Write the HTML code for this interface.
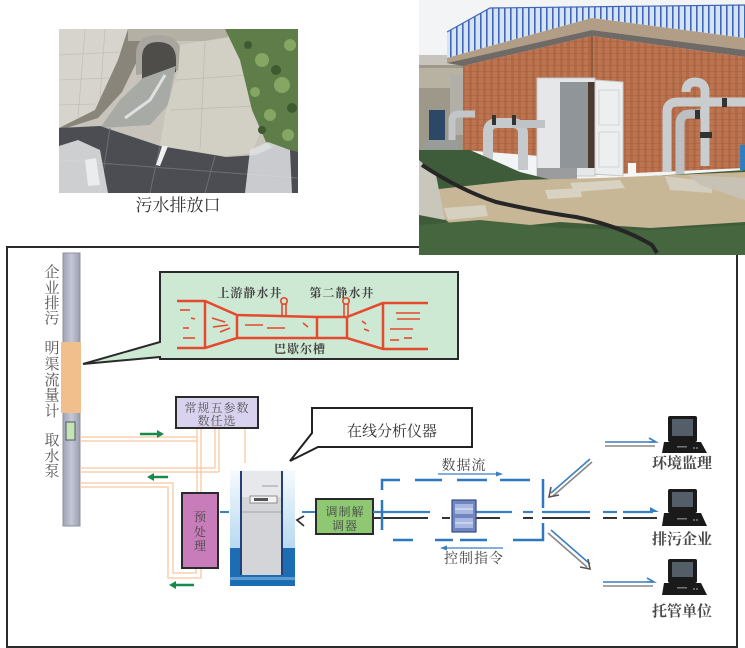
<!DOCTYPE html>
<html><head><meta charset="utf-8">
<style>
html,body{margin:0;padding:0;background:#fff;}
svg{display:block;}
text{font-family:"Liberation Serif","Noto Serif CJK SC",serif;}
</style></head><body>
<svg width="745" height="648" viewBox="0 0 745 648" xmlns="http://www.w3.org/2000/svg">
<defs>
  <clipPath id="cl"><rect x="59" y="29" width="239" height="164"/></clipPath>
  <clipPath id="cr"><rect x="419" y="0" width="326" height="255"/></clipPath>
  <pattern id="brick" width="7" height="6" patternUnits="userSpaceOnUse">
    <rect width="7" height="6" fill="#bd7550"/>
    <rect x="0" y="0" width="3" height="6" fill="#b06a48"/>
    <line x1="0" y1="5.5" x2="7" y2="5.5" stroke="#a86040" stroke-width="0.6"/>
  </pattern>
  <pattern id="fence" width="6" height="40" patternUnits="userSpaceOnUse">
    <rect width="6" height="40" fill="#d6e3f0"/>
    <rect x="0" y="0" width="1.6" height="40" fill="#3f66b8"/>
  </pattern>
  <linearGradient id="cabbg" x1="0" y1="0" x2="0" y2="1">
    <stop offset="0" stop-color="#f6fbfe"/>
    <stop offset="1" stop-color="#b8d9f0"/>
  </linearGradient>
  <linearGradient id="pipeg" x1="0" y1="0" x2="1" y2="0">
    <stop offset="0" stop-color="#9fa3b6"/>
    <stop offset="0.5" stop-color="#c4c7d5"/>
    <stop offset="1" stop-color="#9a9eb0"/>
  </linearGradient>
</defs>

<!-- main frame -->
<rect x="7" y="247" width="730" height="400" fill="#fff" stroke="#2b2b2b" stroke-width="2"/>

<!-- LEFT PHOTO -->
<g clip-path="url(#cl)">
  <rect x="59" y="29" width="239" height="164" fill="#c8c4bb"/>
  <polygon points="59,29 128,29 118,60 95,110 59,128" fill="#d7d4cd"/>
  <g stroke="#c4c0b8" stroke-width="0.8">
    <line x1="59" y1="55" x2="120" y2="52"/><line x1="59" y1="80" x2="108" y2="78"/><line x1="59" y1="105" x2="96" y2="104"/>
    <line x1="85" y1="29" x2="78" y2="118"/><line x1="105" y1="29" x2="100" y2="100"/>
  </g>
  <polygon points="128,29 140,29 140,55 122,92 98,118 60,130 59,128 95,110 118,60" fill="#8a857a"/>
  <rect x="128" y="29" width="100" height="12" fill="#b5b0a4"/>
  <path d="M136,75 L136,55 Q136,35 158,35 Q180,35 182,55 L182,70 Z" fill="#a9a69f"/>
  <path d="M142,80 L142,58 Q142,42 158,42 Q175,42 176,58 L176,72 Z" fill="#4e4d4a"/>
  <polygon points="143,78 176,66 168,105 150,125 100,128 120,100" fill="#a8aaa6"/>
  <polyline points="165,75 150,100 125,118" stroke="#dfe1e0" stroke-width="3" fill="none"/>
  <polygon points="180,45 235,36 250,85 262,128 252,153 225,156 160,146 166,110 178,72" fill="#d2cfc4"/>
  <g stroke="#bfbbb0" stroke-width="0.8">
    <line x1="176" y1="80" x2="248" y2="75"/><line x1="170" y1="110" x2="256" y2="106"/><line x1="205" y1="42" x2="200" y2="150"/>
  </g>
  <polygon points="225,29 298,29 298,162 282,156 266,142 252,110 240,60" fill="#5f7d48"/>
  <g fill="#86a663">
    <circle cx="262" cy="60" r="7"/><circle cx="282" cy="85" r="8"/><circle cx="270" cy="115" r="6"/><circle cx="290" cy="45" r="6"/><circle cx="255" cy="92" r="5"/><circle cx="288" cy="135" r="6"/>
  </g>
  <g fill="#3e5a30">
    <circle cx="276" cy="70" r="5"/><circle cx="262" cy="130" r="4"/><circle cx="292" cy="108" r="5"/><circle cx="248" cy="45" r="4"/>
  </g>
  <polygon points="59,128 100,126 160,146 226,157 256,155 275,146 298,152 298,193 59,193" fill="#4c4d53"/>
  <g stroke="#6d6e72" stroke-width="1">
    <line x1="59" y1="160" x2="298" y2="178"/><line x1="110" y1="128" x2="100" y2="193"/><line x1="160" y1="146" x2="150" y2="193"/><line x1="215" y1="156" x2="205" y2="193"/>
  </g>
  <polygon points="59,146 78,140 100,150 108,193 59,193" fill="#e4e6e8" opacity="0.85"/>
  <polygon points="85,160 96,158 100,185 88,186" fill="#f2f3f4" opacity="0.8"/>
  <polygon points="250,150 268,142 290,150 292,193 245,193" fill="#dfe2e4" opacity="0.85"/>
  <polygon points="162,146 168,146 160,166 156,165" fill="#f0f0f0"/>
</g>
<text x="178" y="211" font-size="17" fill="#333" text-anchor="middle">污水排放口</text>

<!-- RIGHT PHOTO -->
<g clip-path="url(#cr)">
  <rect x="419" y="0" width="326" height="255" fill="#f2f4f6"/>
  <rect x="419" y="55" width="48" height="105" fill="#9e988a"/>
  <rect x="419" y="55" width="48" height="10" fill="#c6c4bc"/>
  <rect x="419" y="68" width="48" height="20" fill="#b8b2a2"/>
  <rect x="450" y="75" width="18" height="60" fill="#b2aea8"/>
  <polygon points="447,32 490,8 745,5 745,38 592,18 447,58" fill="url(#fence)"/>
  <polyline points="447,32 490,8 745,5" stroke="#3f66b8" stroke-width="1.2" fill="none"/>
  <polygon points="447,58 592,18 745,38 745,50 592,30 447,63" fill="#b29e86"/>
  <polygon points="447,63 592,30 745,50 745,57 592,36 463,66" fill="#6f6a66"/>
  <polygon points="463,66 592,36 592,160 463,150" fill="url(#brick)"/>
  <polygon points="592,36 745,57 745,168 592,175" fill="url(#brick)"/>
  <line x1="592" y1="36" x2="592" y2="170" stroke="#8e5a40" stroke-width="2"/>
  <!-- cabinet -->
  <rect x="537" y="78" width="58" height="98" fill="#e5e7e9" stroke="#c6c8ca"/>
  <rect x="560" y="82" width="28" height="86" fill="#8f9598"/>
  <rect x="588" y="82" width="7" height="86" fill="#4b3a30"/>
  <rect x="537" y="168" width="40" height="15" fill="#9a9c9e"/>
  <polygon points="595,80 623,82 623,176 595,174" fill="#eceeef" stroke="#c8c8c8"/>
  <rect x="599" y="90" width="20" height="35" fill="none" stroke="#d0d2d4"/>
  <rect x="599" y="132" width="20" height="35" fill="none" stroke="#d0d2d4"/>
  <rect x="628" y="163" width="8" height="14" fill="#f6f6f6"/>
  <!-- pipes left -->
  <path d="M488,168 V132 Q488,123 498,123 H512 Q523,123 523,134 V170" stroke="#c6cacd" stroke-width="10" fill="none"/>
  <path d="M512,124 H545" stroke="#bfc3c6" stroke-width="8" fill="none"/>
  <rect x="492" y="115" width="4" height="10" fill="#333"/><rect x="512" y="115" width="4" height="10" fill="#333"/>
  <path d="M452,148 V120 Q452,114 460,114 H475" stroke="#c2c6c9" stroke-width="7" fill="none"/>
  <rect x="429" y="110" width="16" height="32" fill="#2b4866"/>
  <rect x="423" y="140" width="36" height="14" fill="#9a9c9a"/>
  <!-- pipes right -->
  <path d="M667,172 V112 Q667,102 678,102 H745" stroke="#c9cdd0" stroke-width="9" fill="none"/>
  <path d="M680,174 V124 Q680,114 690,114 H705" stroke="#bcc0c3" stroke-width="9" fill="none"/>
  <path d="M705,166 V92 Q705,82 695,82 Q686,82 686,92" stroke="#c9cdd0" stroke-width="9" fill="none"/>
  <rect x="700" y="132" width="12" height="6" fill="#333"/><rect x="722" y="98" width="5" height="9" fill="#333"/><rect x="695" y="110" width="5" height="9" fill="#333"/>
  <rect x="740" y="145" width="5" height="25" fill="#2f7fc0"/>
  <!-- ground -->
  <polygon points="419,150 470,150 520,172 560,182 745,170 745,255 419,255" fill="#3f5c3a"/>
  <polygon points="430,190 520,180 600,178 745,172 745,222 650,228 560,222 460,232 440,215" fill="#c8b797"/>
  <polygon points="419,160 436,175 445,220 419,215" fill="#c9c6bc"/>
  <polygon points="444,208 485,205 488,216 448,220" fill="#d6d0c0"/>
  <polygon points="545,190 580,188 582,197 548,199" fill="#d8d2c2"/>
  <polygon points="570,183 620,180 625,188 575,192" fill="#d8d2c2"/>
  <polygon points="665,176 712,182 712,193 670,190" fill="#d4cec0"/>
  <polygon points="688,175 745,178 745,200 700,185" fill="#c8c2b4"/>
  <polygon points="419,225 480,220 560,228 650,230 745,225 745,255 419,255" fill="#46663f"/>
  <path d="M422,165 Q460,190 496,202 Q540,212 576,217 Q620,226 652,245 L657,253" stroke="#262626" stroke-width="4" fill="none"/>
</g>

<!-- vertical pipe -->
<rect x="63" y="253" width="17" height="273" fill="url(#pipeg)" stroke="#8c90a2" stroke-width="1"/>
<rect x="61" y="342" width="20" height="71" fill="#f1bf8b"/>
<rect x="66" y="422" width="9" height="18" fill="#c2e5b3" stroke="#556" stroke-width="1"/>

<!-- left vertical labels -->
<g font-size="15" fill="#555" text-anchor="middle">
  <text x="52" y="277">企</text><text x="52" y="293">业</text><text x="52" y="308">排</text><text x="52" y="323">污</text>
  <text x="52" y="353">明</text><text x="52" y="369">渠</text><text x="52" y="385">流</text><text x="52" y="400">量</text><text x="52" y="416">计</text>
  <text x="52" y="445">取</text><text x="52" y="461">水</text><text x="52" y="476">泵</text>
</g>

<!-- green callout -->
<path d="M160,272 H458 V359 H160 V357 L83,364 L160,342 Z" fill="#cde8d3" stroke="#2a2a2a" stroke-width="2" stroke-linejoin="miter"/>
<g stroke="#e5492e" stroke-width="2.5" fill="none">
  <polyline points="177,301 205,301 237,315 317,317 347,317 383,303 428,303"/>
  <polyline points="177,348 205,348 237,338 347,338 383,349 428,349"/>
  <line x1="205" y1="301" x2="205" y2="348"/>
  <line x1="237" y1="315" x2="237" y2="338"/>
  <line x1="317" y1="317" x2="317" y2="338"/>
  <line x1="347" y1="317" x2="347" y2="338"/>
  <line x1="383" y1="303" x2="383" y2="349"/>
</g>
<g stroke="#e5492e" stroke-width="1.6" fill="none">
  <circle cx="284" cy="301" r="3.2"/><line x1="282" y1="304" x2="282" y2="316"/><line x1="286" y1="304" x2="286" y2="316"/>
  <circle cx="346" cy="301" r="3.2"/><line x1="344" y1="304" x2="344" y2="316"/><line x1="348" y1="304" x2="348" y2="316"/>
  <line x1="180" y1="310" x2="190" y2="310"/><line x1="191" y1="318" x2="195" y2="319"/><line x1="183" y1="328" x2="189" y2="328"/><line x1="183" y1="338" x2="195" y2="338"/>
  <line x1="212" y1="318" x2="225" y2="322"/><line x1="213" y1="327" x2="228" y2="325"/><line x1="220" y1="332" x2="230" y2="328"/>
  <line x1="245" y1="325" x2="263" y2="325"/><line x1="267" y1="328" x2="285" y2="328"/><line x1="303" y1="323" x2="308" y2="327"/>
  <line x1="362" y1="321" x2="366" y2="324"/><line x1="364" y1="329" x2="369" y2="331"/>
  <line x1="396" y1="313" x2="420" y2="313"/><line x1="397" y1="319" x2="420" y2="319"/><line x1="390" y1="329" x2="413" y2="329"/><line x1="390" y1="340" x2="399" y2="340"/><line x1="404" y1="338" x2="412" y2="338"/>
</g>
<g font-size="12" font-weight="bold" fill="#454545" text-anchor="middle" letter-spacing="1">
  <text x="250" y="297">上游静水井</text>
  <text x="342" y="297">第二静水井</text>
  <text x="300" y="353">巴歇尔槽</text>
</g>

<!-- orange pipes -->
<g stroke="#f6c8a1" stroke-width="1.3" fill="none">
  <polyline points="80,437 197,437"/><polyline points="80,441 197,441"/>
  <line x1="197" y1="428" x2="197" y2="493"/><line x1="201" y1="428" x2="201" y2="493"/>
  <line x1="215" y1="428" x2="215" y2="468"/><line x1="219" y1="428" x2="219" y2="472"/>
  <polyline points="80,468 215,468"/><polyline points="80,472 219,472"/>
  <line x1="245" y1="428" x2="245" y2="463"/>
  <polyline points="80,483 173,483 173,573 196,573 196,568"/>
  <polyline points="80,487 168,487 168,578 201,578 201,568"/>
</g>

<!-- green arrows -->
<g stroke="#178a4e" stroke-width="2.5" fill="#178a4e">
  <line x1="140" y1="434" x2="158" y2="434"/><polygon points="157,430 164,434 157,438" stroke="none"/>
  <line x1="168" y1="477" x2="153" y2="477"/><polygon points="154,473 147,477 154,481" stroke="none"/>
  <line x1="194" y1="585" x2="175" y2="585"/><polygon points="176,581 169,585 176,589" stroke="none"/>
</g>

<!-- 常规五参数 box -->
<rect x="176" y="397" width="82" height="31" fill="#d9d2ef" stroke="#2a2a2a" stroke-width="2"/>
<g font-size="12" fill="#555" text-anchor="middle" letter-spacing="1">
  <text x="217" y="412">常规五参数</text>
  <text x="217" y="425">数任选</text>
</g>

<!-- pre-processing -->
<rect x="182" y="493" width="36" height="75" fill="#c97cba" stroke="#2a2a2a" stroke-width="2"/>
<g font-size="12" fill="#444" text-anchor="middle">
  <text x="200" y="521">预</text><text x="200" y="536">处</text><text x="200" y="550">理</text>
</g>
<line x1="220" y1="512" x2="229" y2="512" stroke="#3a80c4" stroke-width="2"/>

<!-- cabinet -->
<rect x="230" y="470" width="65" height="78" fill="url(#cabbg)"/>
<rect x="230" y="548" width="65" height="38" fill="#1d6db3"/>
<rect x="230" y="577" width="65" height="3" fill="#5d9cd2"/>
<rect x="240" y="471" width="43" height="104" fill="#d3d5d9"/>
<rect x="240" y="471" width="43" height="26" fill="#e6e8ec"/>
<line x1="241" y1="471" x2="241" y2="575" stroke="#23407a" stroke-width="2"/>
<line x1="282" y1="471" x2="282" y2="575" stroke="#23407a" stroke-width="2"/>
<rect x="250" y="496" width="27" height="7" fill="#f2f2f2" stroke="#7a7a7a" stroke-width="0.8"/>
<rect x="254" y="498" width="14" height="3" fill="#555"/>
<line x1="242" y1="512" x2="281" y2="512" stroke="#a0a2a6" stroke-width="1"/>
<line x1="262" y1="486" x2="278" y2="486" stroke="#9a9ca0" stroke-width="1"/>

<!-- 在线分析仪器 callout -->
<path d="M312,408 H472 V447 H318 L290,461 L312,433 Z" fill="#fff" stroke="#222" stroke-width="2"/>
<text x="392" y="436" font-size="15" fill="#333" text-anchor="middle">在线分析仪器</text>
<polyline points="304,516 297,520 304,526" stroke="#333" stroke-width="1.8" fill="none"/>

<!-- cabinet -> modem -->
<line x1="302" y1="512" x2="316" y2="512" stroke="#3a80c4" stroke-width="2"/>

<!-- modem -->
<rect x="316" y="499" width="57" height="35" fill="#8ec872" stroke="#2a2a2a" stroke-width="2"/>
<g font-size="12" fill="#444" text-anchor="middle" letter-spacing="1">
  <text x="345" y="516">调制解</text><text x="345" y="530">调器</text>
</g>

<!-- network lines -->
<g stroke="#3b7fc3" stroke-width="2.2">
  <line x1="373" y1="512" x2="430" y2="512"/>
  <line x1="475" y1="512" x2="512" y2="512"/>
  <line x1="523" y1="512" x2="533" y2="512"/>
  <line x1="542" y1="512" x2="590" y2="512"/>
  <line x1="603" y1="512" x2="617" y2="512"/>
  <line x1="623" y1="512" x2="653" y2="512"/>
</g>
<polygon points="650,507 659,512 650,512" fill="#3b7fc3"/>
<g stroke="#333" stroke-width="2">
  <line x1="373" y1="518" x2="428" y2="518"/>
  <line x1="442" y1="518" x2="450" y2="518"/>
  <line x1="475" y1="518" x2="500" y2="518"/>
  <line x1="523" y1="518" x2="533" y2="518"/>
  <line x1="542" y1="518" x2="590" y2="518"/>
  <line x1="603" y1="518" x2="617" y2="518"/>
  <line x1="623" y1="518" x2="657" y2="518"/>
</g>
<line x1="382" y1="500" x2="382" y2="530" stroke="#2f78c0" stroke-width="2.5"/>

<!-- router/switch box -->
<rect x="452" y="500" width="24" height="32" fill="#6f86c0" stroke="#3a4a80" stroke-width="1.2"/>
<rect x="455" y="504" width="18" height="10" fill="#a8b8e0"/>
<rect x="455" y="518" width="18" height="10" fill="#a8b8e0"/>
<line x1="455" y1="509" x2="473" y2="509" stroke="#fff" stroke-width="0.8"/>
<line x1="455" y1="523" x2="473" y2="523" stroke="#fff" stroke-width="0.8"/>

<!-- dashed rectangle -->
<g stroke="#2f78c0" stroke-width="2.5" fill="none">
  <polyline points="382,490 382,480 400,480"/>
  <line x1="415" y1="480" x2="442" y2="480"/>
  <line x1="457" y1="480" x2="487" y2="480"/>
  <line x1="500" y1="480" x2="530" y2="480"/>
  <line x1="543" y1="479" x2="543" y2="508"/>
  <polyline points="543,523 543,540 513,540"/>
  <line x1="460" y1="540" x2="487" y2="540"/>
  <line x1="435" y1="540" x2="453" y2="540"/>
  <line x1="393" y1="540" x2="413" y2="540"/>
</g>

<!-- data flow labels -->
<text x="464" y="470" font-size="14" fill="#444" text-anchor="middle" letter-spacing="1">数据流</text>
<line x1="438" y1="474" x2="498" y2="474" stroke="#3b7fc3" stroke-width="1.2"/>
<polygon points="496,471.5 503,474 496,476.5" fill="#3b7fc3"/>
<line x1="446" y1="548" x2="503" y2="548" stroke="#3b7fc3" stroke-width="1.2"/>
<polygon points="447,545.5 440,548 447,550.5" fill="#3b7fc3"/>
<text x="474" y="563" font-size="14" fill="#444" text-anchor="middle" letter-spacing="1">控制指令</text>

<!-- diagonal arrows -->
<g fill="none" stroke-width="1.6">
  <line x1="590" y1="459" x2="551" y2="493" stroke="#3b7fc3"/>
  <line x1="592" y1="462" x2="553" y2="496" stroke="#888"/>
  <polyline points="551,487 549,497 559,495" stroke="#555"/>
  <line x1="548" y1="533" x2="587" y2="567" stroke="#888"/>
  <line x1="551" y1="530" x2="590" y2="564" stroke="#3b7fc3"/>
  <polyline points="580,567 590,569 588,559" stroke="#555"/>
  <line x1="605" y1="442" x2="655" y2="442" stroke="#3b7fc3"/>
  <line x1="605" y1="446" x2="655" y2="446" stroke="#888"/>
  <polyline points="649,438 656,442 649,442" stroke="#3b7fc3"/>
  <line x1="603" y1="582" x2="653" y2="582" stroke="#3b7fc3"/>
  <line x1="603" y1="586" x2="653" y2="586" stroke="#888"/>
  <polyline points="647,578 654,582 647,582" stroke="#3b7fc3"/>
</g>

<!-- computers -->
<g>
  <rect x="668" y="416" width="29" height="26" rx="2" fill="#1a1a1a"/>
  <rect x="672" y="419" width="21" height="17" fill="#535e68"/>
  <polygon points="664,442 701,442 707,453 662,453" fill="#1a1a1a"/>
  <rect x="677" y="446" width="10" height="1.5" fill="#777"/><circle cx="694" cy="448" r="0.9" fill="#999"/><circle cx="697" cy="448" r="0.9" fill="#999"/>

  <rect x="668" y="489" width="29" height="24" rx="2" fill="#1a1a1a"/>
  <rect x="672" y="492" width="21" height="15" fill="#535e68"/>
  <polygon points="664,513 701,513 707,526 662,526" fill="#1a1a1a"/>
  <rect x="677" y="518" width="10" height="1.5" fill="#777"/><circle cx="694" cy="520" r="0.9" fill="#999"/><circle cx="697" cy="520" r="0.9" fill="#999"/>

  <rect x="668" y="559" width="29" height="24" rx="2" fill="#1a1a1a"/>
  <rect x="672" y="562" width="21" height="15" fill="#535e68"/>
  <polygon points="664,583 701,583 707,595 662,595" fill="#1a1a1a"/>
  <rect x="677" y="587" width="10" height="1.5" fill="#777"/><circle cx="694" cy="589" r="0.9" fill="#999"/><circle cx="697" cy="589" r="0.9" fill="#999"/>
</g>
<g font-size="15" font-weight="bold" fill="#4a4a4a" text-anchor="middle">
  <text x="682" y="468">环境监理</text>
  <text x="682" y="544">排污企业</text>
  <text x="682" y="616">托管单位</text>
</g>
</svg>
</body></html>
